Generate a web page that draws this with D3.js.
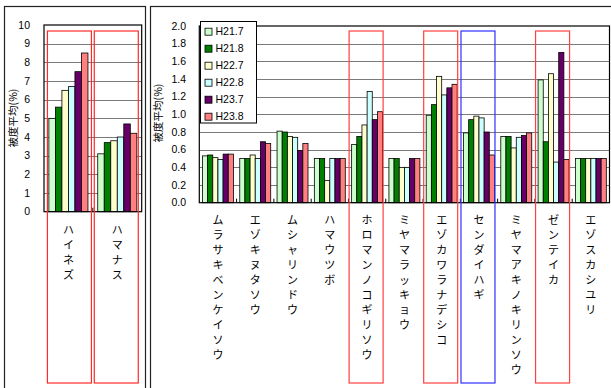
<!DOCTYPE html>
<html>
<head>
<meta charset="utf-8">
<script src="https://cdn.jsdelivr.net/npm/d3@7"></script>
<style>
  html, body { margin: 0; padding: 0; background: #fff; }
  svg { display: block; }
  .tick-label { font-family: "Liberation Sans", Arial, sans-serif; font-size: 10.5px; fill: #000; }
  .cat-label { font-family: "Noto Sans CJK JP", sans-serif; font-size: 11px; fill: #000; }
  .axis-title { font-family: "Noto Sans CJK JP", sans-serif; font-size: 10.5px; fill: #000; }
</style>
</head>
<body>
<svg id="chart" width="611" height="388"></svg>
<script>
// Survey periods (series) and their fill colours
const series = ["H21.7", "H21.8", "H22.7", "H22.8", "H23.7", "H23.8"];
const seriesColors = ["#CCFFCC", "#008000", "#FFFFCC", "#CCFFFF", "#660066", "#FF8080"];

// Shrub species (0–10 % scale)
const leftCategories = ["ハイネズ", "ハマナス"];
const leftValues = [
  [5.0, 5.6, 6.5, 6.7, 7.5, 8.5],
  [3.1, 3.7, 3.8, 4.0, 4.7, 4.2]
];
const leftTicks = [0, 1, 2, 3, 4, 5, 6, 7, 8, 9, 10];

// Herbaceous species (0–2.0 % scale)
const rightCategories = [
  "ムラサキベンケイソウ", "エゾキヌタソウ", "ムシャリンドウ", "ハマウツボ",
  "ホロマンノコギリソウ", "ミヤマラッキョウ", "エゾカワラナデシコ", "センダイハギ",
  "ミヤマアキノキリンソウ", "ゼンテイカ", "エゾスカシユリ"
];
const rightValues = [
  [0.53, 0.54, 0.51, 0.49, 0.55, 0.55],
  [0.50, 0.50, 0.54, 0.50, 0.69, 0.67],
  [0.81, 0.80, 0.75, 0.74, 0.59, 0.67],
  [0.50, 0.50, 0.25, 0.50, 0.50, 0.50],
  [0.66, 0.75, 0.88, 1.26, 0.94, 1.03],
  [0.50, 0.50, 0.40, 0.40, 0.50, 0.50],
  [0.99, 1.11, 1.43, 1.22, 1.30, 1.34],
  [0.79, 0.94, 0.98, 0.96, 0.80, 0.54],
  [0.75, 0.75, 0.62, 0.74, 0.76, 0.79],
  [1.39, 0.69, 1.46, 0.46, 1.70, 0.49],
  [0.50, 0.50, 0.50, 0.50, 0.50, 0.50]
];
const rightTicks = [0, 0.2, 0.4, 0.6, 0.8, 1.0, 1.2, 1.4, 1.6, 1.8, 2.0];

// Species boxed for emphasis
const leftBoxed = ["ハイネズ", "ハマナス"];
const redBoxed = ["ホロマンノコギリソウ", "エゾカワラナデシコ", "ゼンテイカ"];
const blueBoxed = ["センダイハギ"];

const yTitle = "被度平均(%)";

const svg = d3.select("#chart");

// Outer frames of the two chart objects
svg.append("rect").attr("x", 4.5).attr("y", 6.5).attr("width", 141).attr("height", 400)
  .attr("fill", "#fff").attr("stroke", "#222").attr("stroke-width", 1.2);
svg.append("rect").attr("x", 150.5).attr("y", 6.5).attr("width", 470).attr("height", 400)
  .attr("fill", "#fff").attr("stroke", "#222").attr("stroke-width", 1.2);

function drawPanel(opts) {
  const { left, right, top, bottom, categories, values, ticks, domainMax, barFrac,
          tickFmt, labelRight, titleX, titleY, labelTop } = opts;
  const g = svg.append("g");

  const x = d3.scaleBand().domain(categories).range([left, right]).padding(0);
  const y = d3.scaleLinear().domain([0, domainMax]).range([bottom, top]);

  // plot area background
  g.append("rect").attr("x", left).attr("y", top).attr("width", right - left).attr("height", bottom - top)
    .attr("fill", "#fff");

  // gridlines
  g.selectAll("line.grid").data(ticks.filter(t => t > 0 && t < domainMax)).enter().append("line")
    .attr("x1", left).attr("x2", right)
    .attr("y1", d => Math.round(y(d)) + 0.5).attr("y2", d => Math.round(y(d)) + 0.5)
    .attr("stroke", "#7a7a7a").attr("stroke-width", 1.2);

  // y tick labels
  g.selectAll("text.ytick").data(ticks).enter().append("text")
    .attr("class", "tick-label")
    .attr("x", labelRight).attr("y", d => y(d)).attr("dy", "0.36em")
    .attr("text-anchor", "end").text(tickFmt);

  // bars
  const bw = x.bandwidth() * barFrac;
  const inner = d3.scaleBand().domain(series).range([0, bw]).padding(0);
  const groups = g.selectAll("g.cat").data(categories).enter().append("g")
    .attr("transform", c => `translate(${x(c) + (x.bandwidth() - bw) / 2},0)`);
  groups.selectAll("rect").data((c, i) => values[i].map((v, j) => ({ v, s: series[j], k: j })))
    .enter().append("rect")
    .attr("x", d => inner(d.s)).attr("width", inner.bandwidth())
    .attr("y", d => y(d.v)).attr("height", d => y(0) - y(d.v))
    .attr("fill", d => seriesColors[d.k]).attr("stroke", "#000").attr("stroke-width", 0.8);

  // category separator ticks along the bottom axis
  g.selectAll("line.ctick").data(categories.slice(1)).enter().append("line")
    .attr("x1", c => x(c)).attr("x2", c => x(c))
    .attr("y1", bottom).attr("y2", bottom - 4)
    .attr("stroke", "#000").attr("stroke-width", 1);

  // plot area border
  g.append("rect").attr("x", left).attr("y", top).attr("width", right - left).attr("height", bottom - top)
    .attr("fill", "none").attr("stroke", "#000").attr("stroke-width", 1.2);

  // vertical category labels, one character per line
  categories.forEach(c => {
    const cx = x(c) + x.bandwidth() / 2;
    const t = g.append("text").attr("class", "cat-label").attr("text-anchor", "middle");
    Array.from(c).forEach((ch, i) => {
      t.append("tspan").attr("x", cx).attr("y", labelTop + i * 15).text(ch);
    });
  });

  // y axis title
  g.append("text").attr("class", "axis-title")
    .attr("transform", `translate(${titleX},${titleY}) rotate(-90)`)
    .attr("text-anchor", "middle").attr("dy", "0.35em").text(yTitle);

  return x;
}

const xl = drawPanel({
  left: 44, right: 141.7, top: 25, bottom: 211.7,
  categories: leftCategories, values: leftValues, ticks: leftTicks, domainMax: 10,
  barFrac: 0.8, tickFmt: d => d3.format("d")(d), labelRight: 30,
  titleX: 13, titleY: 118, labelTop: 234
});

const xr = drawPanel({
  left: 199.3, right: 609.5, top: 26, bottom: 202.7,
  categories: rightCategories, values: rightValues, ticks: rightTicks, domainMax: 2.0,
  barFrac: 0.83, tickFmt: d => d.toFixed(1), labelRight: 186,
  titleX: 158, titleY: 113, labelTop: 224
});

// emphasis boxes around selected species
function box(xScale, cat, w, dx, color) {
  const cx = xScale(cat) + xScale.bandwidth() / 2 + dx;
  svg.append("rect").attr("x", cx - w / 2).attr("y", 31).attr("width", w).attr("height", 352)
    .attr("fill", "none").attr("stroke", color).attr("stroke-width", 1.2);
}
box(xl, leftBoxed[0], 44, 1, "#ff2a2a");
box(xl, leftBoxed[1], 44, -1, "#ff2a2a");
redBoxed.forEach(c => box(xr, c, 34, -1, "#ff4040"));
blueBoxed.forEach(c => box(xr, c, 34, -1, "#3030ff"));

// legend
const lg = svg.append("g");
lg.append("rect").attr("x", 200.5).attr("y", 21.5).attr("width", 56).attr("height", 101.5)
  .attr("fill", "#fff").attr("stroke", "#000").attr("stroke-width", 1);
series.forEach((s, i) => {
  const cy = 31.7 + i * 17;
  lg.append("rect").attr("x", 205).attr("y", cy - 3.5).attr("width", 7).attr("height", 7)
    .attr("fill", seriesColors[i]).attr("stroke", "#000").attr("stroke-width", 0.8);
  lg.append("text").attr("class", "tick-label").attr("x", 215.5).attr("y", cy).attr("dy", "0.36em")
    .text(s);
});
</script>
</body>
</html>
